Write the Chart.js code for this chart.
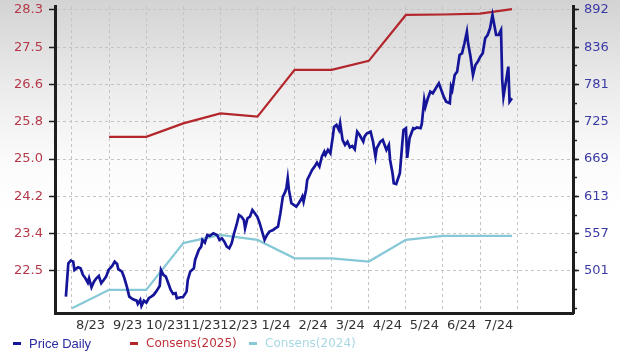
<!DOCTYPE html>
<html><head><meta charset="utf-8">
<script src="https://cdn.jsdelivr.net/npm/chart.js@4.4.1/dist/chart.umd.min.js"></script>
<style>
html,body{margin:0;padding:0;}
body{width:620px;height:358px;overflow:hidden;background:linear-gradient(to bottom,#d3d3d3 0%,#ececec 25%,#fbfbfb 45%,#ffffff 60%,#ffffff 100%);}
#wrap{position:relative;width:620px;height:358px;}
</style></head><body>
<div id="wrap"><canvas id="c" width="620" height="358"></canvas></div>
<script>
// ---- data ----
const monthLabels = ['8/23','9/23','10/23','11/23','12/23','1/24','2/24','3/24','4/24','5/24','6/24','7/24'];
const leftTickLabels = ['22.5','23.4','24.2','25.0','25.8','26.6','27.5','28.3'];
const rightTickLabels = ['501','557','613','669','725','781','836','892'];
const seriesNames = ['Price Daily','Consens(2025)','Consens(2024)'];

// days since 2023-08-01
const priceDays = [-5,-3,-1,1,2,5,7,9,11,13,14,16,18,20,22,24,26,28,30,33,35,37,38,41,43,45,47,50,53,54,56,57,59,61,63,65,67,69,72,73,75,77,79,81,83,85,86,89,91,94,95,97,100,101,104,106,107,109,111,113,116,119,121,123,125,127,129,131,133,135,137,139,141,142,144,146,148,150,152,154,156,158,160,162,165,167,169,171,173,175,176,177,178,180,182,184,186,188,189,190,192,193,195,197,199,201,203,205,207,208,210,212,214,215,217,219,220,222,224,226,228,230,232,234,236,239,240,242,245,247,249,250,253,255,257,258,260,261,263,264,266,269,271,272,274,275,277,280,281,283,286,287,289,290,292,294,296,299,301,303,305,307,310,311,312,314,316,318,320,322,324,325,327,329,331,333,335,337,339,341,343,345,346,348,350,352,353,354,356,358,359,361];
const priceValues = [462.5,512.6,516.5,515,502.5,506.6,505.1,495,490.1,483.5,490,476.6,485,490,493.5,482.6,487.5,492.5,502.5,508.5,515,511.5,503.6,500,490,477.5,462.5,458.6,456.5,451.6,457.6,448.6,456.5,453.5,460.1,462.5,465.1,470,478.6,502.5,495,492.5,482.6,472.6,466.6,467.6,460.1,461.6,461.6,470,487.5,500,505.1,517.5,532.5,537.4,547.5,543.4,554.9,553.5,557.5,554.9,547.5,550,544.9,537.4,535,542.5,557.5,569.9,584.9,582.4,577.4,565,580,582.4,592.4,587.5,582.4,572.5,559.9,547.5,554.9,559.9,562.4,565,567.4,587.5,612.3,619.8,626.4,639.9,622.4,602.4,599.9,597.3,602.4,608.4,612.3,604.8,622.4,637.3,644.8,652.3,657.3,663.3,657.3,672.2,679.7,674.8,682.3,677.3,702.2,716.7,719.7,712.2,722.3,697.3,689.8,694.7,686.3,688.3,683.3,709.7,704.7,694.7,702.2,707.3,709.7,694.7,672.2,684.8,694.7,697.3,687.2,682.3,689.8,667.3,647.4,632.4,631.3,647.4,692.3,712.2,714.8,670.3,700.3,714.8,713.7,716,714.8,721.2,757.2,747.1,759.7,769.6,767.2,776.2,782.2,772.2,762.1,754.6,752.2,777.1,772.2,794.6,799.6,824.6,827.1,842.1,859.5,842.1,822,794.6,809.6,814.6,822,827.1,849.6,854.5,864.6,884.5,874.5,854.5,854.5,862,787.1,762.1,784.6,807.1,754.6,759.7];

// consensus estimates at each month start (index = month of monthLabels), plus latest value
const consens2025 = [null,25.48,25.48,25.78,26.00,25.93,26.97,26.97,27.17,28.19,28.20,28.22];
const consens2025Latest = 28.32;
const consens2024 = [21.67,22.08,22.08,23.12,23.30,23.19,22.78,22.78,22.71,23.19,23.28,23.28];
const consens2024Latest = 23.28;
const latestDay = 361;

// ---- build ----
const DPM = 30.44;
const pricePts = priceDays.map((d,i)=>({x:d/DPM, y:priceValues[i]}));
function consPts(arr, latest){
  const pts = [];
  arr.forEach((v,i)=>{ if(v!==null) pts.push({x:i, y:v}); });
  pts.push({x:latestDay/DPM, y:latest});
  return pts;
}
const colors = ['#15159a','#b3262c','#86c8d6'];
const textColors = ['#2a2aa0','#c0303a','#a8d8e4'];

const lLo = parseFloat(leftTickLabels[0]), lHi = parseFloat(leftTickLabels[leftTickLabels.length-1]);
const rLo = parseFloat(rightTickLabels[0]), rHi = parseFloat(rightTickLabels[rightTickLabels.length-1]);
const lStep = (lHi-lLo)/(leftTickLabels.length-1);
const rStep = (rHi-rLo)/(rightTickLabels.length-1);
// axis extents (plot spans slightly beyond outer ticks)
const lMin = lLo - lStep*1.128, lMax = lHi + lStep*0.107;
const rMin = rLo - rStep*1.128, rMax = rHi + rStep*0.107;

function fixVPad(s){ s.paddingTop = 6; s.paddingBottom = 0; }

const legendPlugin = {
  id:'customLegend',
  afterDraw(chart){
    const ctx = chart.ctx;
    const xs = [13,130,249];
    const fonts = ['13px "Liberation Sans", Arial, sans-serif','12px "DejaVu Sans", Verdana, sans-serif','12px "DejaVu Sans", Verdana, sans-serif'];
    ctx.save();
    ctx.textBaseline = 'middle';
    chart.data.datasets.forEach((ds,i)=>{
      ctx.fillStyle = ds.borderColor;
      ctx.fillRect(xs[i], 342, 8, 3);
      ctx.fillStyle = textColors[i];
      ctx.font = fonts[i];
      ctx.fillText(ds.label, xs[i]+16, 344);
    });
    ctx.restore();
  }
};

new Chart(document.getElementById('c'), {
  type:'line',
  data:{ datasets:[
    {label:seriesNames[0], data:pricePts, yAxisID:'yR', borderColor:colors[0], borderWidth:2.7, pointRadius:0, tension:0},
    {label:seriesNames[1], data:consPts(consens2025, consens2025Latest), yAxisID:'yL', borderColor:colors[1], borderWidth:2.2, pointRadius:0, tension:0},
    {label:seriesNames[2], data:consPts(consens2024, consens2024Latest), yAxisID:'yL', borderColor:colors[2], borderWidth:2.2, pointRadius:0, tension:0}
  ]},
  options:{
    responsive:false, animation:false,
    layout:{padding:{top:0,left:0,right:0,bottom:0}},
    plugins:{legend:{display:false}, tooltip:{enabled:false}},
    scales:{
      x:{
        type:'linear', min:-0.458, max:13.504,
        afterBuildTicks(s){
          const t=[];
          for(let k=0;k<=monthLabels.length;k++) t.push({value:k});
          for(let k=0;k<monthLabels.length;k++) t.push({value:k+0.5});
          t.sort((a,b)=>a.value-b.value);
          s.ticks=t;
        },
        afterFit(s){ s.height = 45; s.paddingLeft = 0; s.paddingRight = 0; },
        grid:{ color:(c)=> (c.tick && Number.isInteger(c.tick.value)) ? '#c4c4c4' : 'rgba(0,0,0,0)', drawTicks:false, lineWidth:1 },
        border:{ color:'#1e1e1e', width:3, dash:[3,3] },
        ticks:{ autoSkip:false, maxRotation:0, padding:5, color:'#333333',
          font:{family:'"DejaVu Sans", Verdana, sans-serif', size:13},
          callback:(v)=> Number.isInteger(v) ? '' : monthLabels[Math.floor(v)] }
      },
      yL:{
        type:'linear', position:'left', min:lMin, max:lMax,
        afterBuildTicks(s){ s.ticks = leftTickLabels.map((_,i)=>({value:lLo+i*lStep})); },
        afterFit(s){ s.width = 55; fixVPad(s); },
        grid:{ color:'#c4c4c4', lineWidth:1, tickLength:6, tickColor:'#1e1e1e', tickBorderDash:[], tickWidth:1.5 },
        border:{ color:'#1e1e1e', width:3, dash:[3,3] },
        ticks:{ padding:6, color:'#b5394a', font:{family:'"DejaVu Sans", Verdana, sans-serif', size:13},
          callback:(v,i)=> leftTickLabels[i] }
      },
      yRm:{
        type:'linear', position:'right', weight:0, min:rMin, max:rMax,
        afterBuildTicks(s){
          const t=[]; const ms = rStep/4;
          for(let v=rLo-4*ms; v<=rMax; v+=ms) if(v>=rMin) t.push({value:v});
          s.ticks=t;
        },
        afterFit(s){ s.width = 0; fixVPad(s); },
        grid:{ drawOnChartArea:false, tickLength:4, tickColor:'#1e1e1e', tickWidth:1.5 },
        border:{ display:false },
        ticks:{ padding:0, callback:()=> '' }
      },
      yR:{
        type:'linear', position:'right', weight:1, min:rMin, max:rMax,
        afterBuildTicks(s){ s.ticks = rightTickLabels.map((_,i)=>({value:rLo+i*rStep})); },
        afterFit(s){ s.width = 47; fixVPad(s); },
        grid:{ drawOnChartArea:false, tickLength:6, tickColor:'#1e1e1e', tickWidth:1.5 },
        border:{ color:'#1e1e1e', width:3 },
        ticks:{ padding:5, color:'#3b3ba6', font:{family:'"DejaVu Sans", Verdana, sans-serif', size:13},
          callback:(v,i)=> rightTickLabels[i] }
      }
    }
  },
  plugins:[legendPlugin]
});
</script>
</body></html>
